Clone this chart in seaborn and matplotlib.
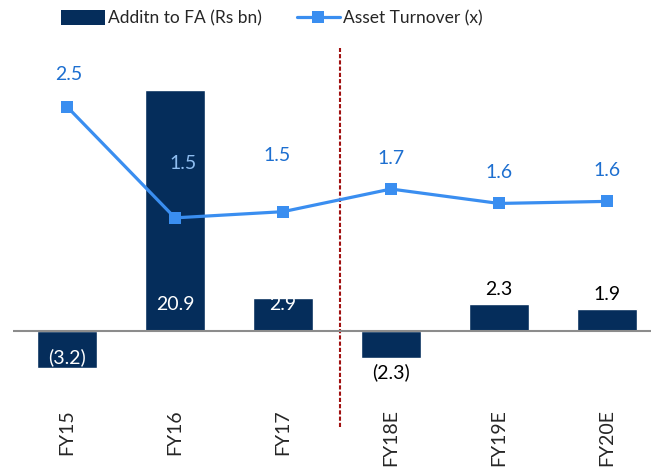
import matplotlib
matplotlib.use('Agg')
import matplotlib.pyplot as plt
from matplotlib.patches import Patch
from matplotlib.lines import Line2D
import numpy as np
import pandas as pd
import seaborn as sns

# Data
years = ['FY15', 'FY16', 'FY17', 'FY18E', 'FY19E', 'FY20E']
fa_additions = [-3.2, 20.9, 2.9, -2.3, 2.3, 1.9]          # Rs bn
asset_turnover = [2.54, 1.46, 1.52, 1.74, 1.60, 1.62]     # x
label_inside = [True, True, True, False, False, False]

sns.set_style('white')
plt.rcParams['font.family'] = ['Lato', 'DejaVu Sans']

bar_color = '#052d5b'
line_color = '#3a8ef0'
label_blue = '#1d6fd0'

df = pd.DataFrame({'year': years, 'fa': fa_additions, 'turn': asset_turnover})

fig = plt.figure(figsize=(6.51, 4.67), dpi=100)
ax = fig.add_axes([13 / 651, 69 / 467, 648 / 651, 350 / 467])

# Bars - additions to fixed assets
sns.barplot(data=df, x='year', y='fa', color=bar_color, width=0.555,
            saturation=1, ax=ax)
ax.axhline(0, color='#8c8c8c', lw=1.5, zorder=3)
ax.set_xlim(-0.5, 5.5)
ax.set_ylim(-5.81, 24.54)
ax.set_xlabel('')
ax.set_ylabel('')
ax.set_yticks([])
ax.tick_params(axis='x', length=0, pad=8, labelsize=14, labelrotation=90)
for s in ax.spines.values():
    s.set_visible(False)

for i, v in enumerate(fa_additions):
    txt = f'({abs(v):.1f})' if v < 0 else f'{v:.1f}'
    sign = 1 if v >= 0 else -1
    if label_inside[i]:
        ax.annotate(txt, (i, 0), xytext=(0, sign * 26), textcoords='offset pixels',
                    ha='center', va='center', color='white', fontsize=14, zorder=4)
    else:
        ax.annotate(txt, (i, v), xytext=(0, sign * 15), textcoords='offset pixels',
                    ha='center', va='center', color='black', fontsize=14, zorder=4)

# Separator between actuals and estimates
ax.axvline(2.53, ymin=-29 / 350, ymax=1, color='#a01010', lw=1.5,
           ls=(0, (2, 1)), clip_on=False, zorder=2)

# Line - asset turnover on secondary axis
ax2 = ax.twinx()
x = np.arange(len(years))
sns.lineplot(x=x, y=asset_turnover, ax=ax2, color=line_color, lw=2.3,
             marker='s', markersize=8, markeredgewidth=0)
ax2.set_ylim(-0.29, 3.11)
ax2.set_yticks([])
for s in ax2.spines.values():
    s.set_visible(False)

label_dy = [32, 54, 56, 31, 31, 31]
label_dx = [2, 8, -6, 0, 0, 0]
for i, v in enumerate(asset_turnover):
    col = '#8fbdf0' if i == 1 else label_blue
    ax2.annotate(f'{v:.1f}', (i, v), xytext=(label_dx[i], label_dy[i]),
                 textcoords='offset pixels', ha='center', va='center',
                 color=col, fontsize=14)

handles = [Patch(facecolor=bar_color, edgecolor='none'),
           Line2D([0], [0], color=line_color, lw=2.3, marker='s', markersize=8,
                  markeredgewidth=0)]
fig.legend(handles, ['Additn to FA (Rs bn)', 'Asset Turnover (x)'],
           loc='center', bbox_to_anchor=(0.418, 0.961), ncol=2, frameon=False,
           fontsize=12.5, handlelength=2.5, handleheight=0.9,
           columnspacing=2.0, handletextpad=0.2)

fig.savefig('out.png', dpi=100)
